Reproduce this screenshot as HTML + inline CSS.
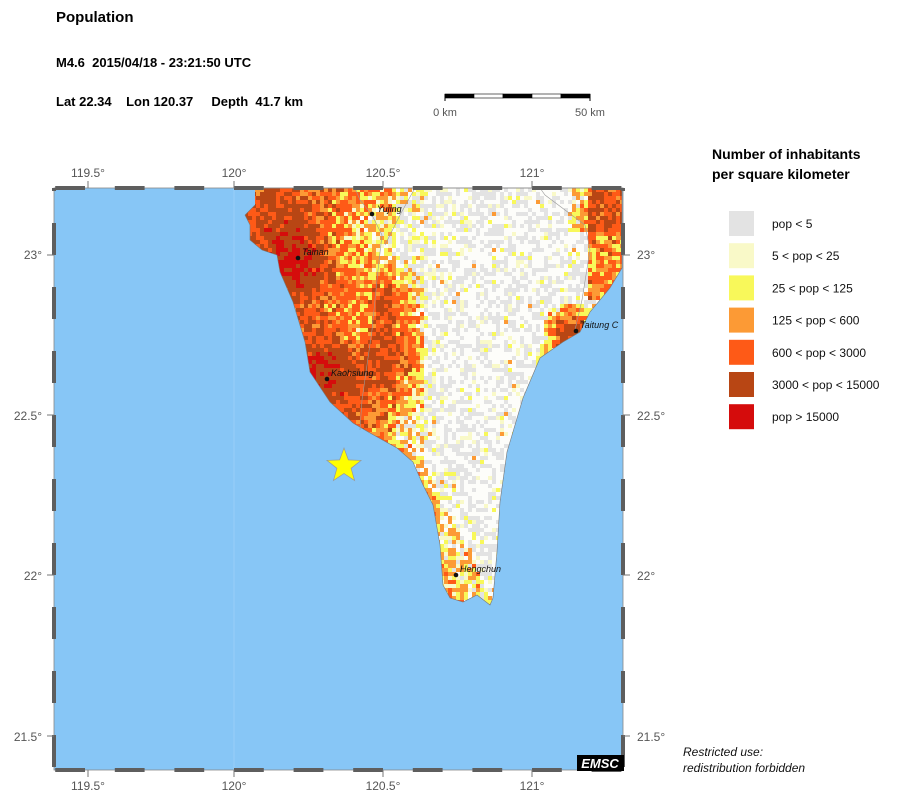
<!DOCTYPE html>
<html><head><meta charset="utf-8"><style>
html,body{margin:0;padding:0;background:#fff;}
svg{display:block;font-family:"Liberation Sans",sans-serif;}
</style></head><body>
<svg id="s" width="904" height="801" viewBox="0 0 904 801" xmlns="http://www.w3.org/2000/svg">
<defs>
<clipPath id="land"><path d="M255,188 L622,188 L622,268 L610,288 L590,312 L580,332 L563,342 L540,358 L523,398 L507,452 L500,502 L497,552 L493,598 L490,605 L477,595 L463,602 L450,598 L443,585 L440,545 L433,505 L423,485 L413,462 L397,448 L370,433 L353,423 L330,402 L310,372 L305,342 L293,302 L280,272 L277,255 L262,250 L250,240 L250,225 L245,215 L255,205 Z"/></clipPath>
</defs>
<rect x="54" y="188" width="569" height="582" fill="#87c6f6"/>
<g clip-path="url(#land)"><rect x="240" y="188" width="390" height="420" fill="#fdfdfa"/><g id="pix"></g></g>
<path d="M255,188 L622,188 L622,268 L610,288 L590,312 L580,332 L563,342 L540,358 L523,398 L507,452 L500,502 L497,552 L493,598 L490,605 L477,595 L463,602 L450,598 L443,585 L440,545 L433,505 L423,485 L413,462 L397,448 L370,433 L353,423 L330,402 L310,372 L305,342 L293,302 L280,272 L277,255 L262,250 L250,240 L250,225 L245,215 L255,205" fill="none" stroke="#777" stroke-width="0.6"/>
<path d="M355,188 L360,200 L372,215 L382,235 L378,270 L372,330 L362,400 L360,430 M540,188 L545,195 L565,210 L585,225 L590,250 L582,300 L575,330 M415,188 L400,215 L385,245" fill="none" stroke="#999" stroke-width="0.6"/>
<line x1="234" y1="188" x2="234" y2="770" stroke="#9acff8" stroke-width="1"/>
<g id="frame"></g>
<g fill="#555" font-size="12" text-anchor="middle">
<text x="88" y="177">119.5°</text><text x="234" y="177">120°</text><text x="383" y="177">120.5°</text><text x="532" y="177">121°</text>
<text x="88" y="790">119.5°</text><text x="234" y="790">120°</text><text x="383" y="790">120.5°</text><text x="532" y="790">121°</text>
</g>
<g fill="#555" font-size="12" text-anchor="end">
<text x="42" y="259">23°</text><text x="42" y="420">22.5°</text><text x="42" y="580">22°</text><text x="42" y="741">21.5°</text>
</g>
<g fill="#555" font-size="12">
<text x="637" y="259">23°</text><text x="637" y="420">22.5°</text><text x="637" y="580">22°</text><text x="637" y="741">21.5°</text>
</g>
<g id="fg"></g>
<g font-size="9" font-style="italic" fill="#111">
<circle cx="372" cy="214" r="2.3"/><text x="377" y="212">Yujing</text>
<circle cx="298" cy="258" r="2.3"/><text x="302" y="255">Tainan</text>
<circle cx="327" cy="379" r="2.3"/><text x="331" y="376">Kaohsiung</text>
<circle cx="576" cy="331" r="2.3"/><text x="580" y="328">Taitung C</text>
<circle cx="456" cy="575" r="2.3"/><text x="460" y="572">Hengchun</text>
</g>
<polygon id="star" fill="#ffff00" stroke="#999" stroke-width="0.7"/>
<rect x="577" y="755" width="47" height="16" fill="#000"/>
<text x="600" y="768" fill="#fff" font-size="13" font-weight="bold" font-style="italic" text-anchor="middle">EMSC</text>
<text x="683" y="756" font-size="12" font-style="italic" fill="#111">Restricted use:</text>
<text x="683" y="772" font-size="12" font-style="italic" fill="#111">redistribution forbidden</text>
<text x="56" y="22" font-size="15" font-weight="bold" fill="#000">Population</text>
<text x="56" y="67" font-size="13" font-weight="bold" fill="#000" xml:space="preserve">M4.6  2015/04/18 - 23:21:50 UTC</text>
<text x="56" y="106" font-size="13" font-weight="bold" fill="#000" xml:space="preserve">Lat 22.34    Lon 120.37     Depth  41.7 km</text>
<g id="scale"></g>
<text x="445" y="116" font-size="11" fill="#555" text-anchor="middle">0 km</text>
<text x="590" y="116" font-size="11" fill="#555" text-anchor="middle">50 km</text>
<text x="712" y="159" font-size="14" font-weight="bold" fill="#000">Number of inhabitants</text>
<text x="712" y="179" font-size="14" font-weight="bold" fill="#000">per square kilometer</text>
<g id="leg" font-size="12" fill="#111"></g>
</svg>
<script>
var NS="http://www.w3.org/2000/svg";
function el(p,t,a){var e=document.createElementNS(NS,t);for(var k in a)e.setAttribute(k,a[k]);p.appendChild(e);return e;}
var cols=["#e3e3e3","#f9f9c8","#f8f85a","#fc9a35","#fe5a17","#b84614","#d50c0c"];
var labs=["pop < 5","5 < pop < 25","25 < pop < 125","125 < pop < 600","600 < pop < 3000","3000 < pop < 15000","pop > 15000"];
var leg=document.getElementById("leg");
for(var i=0;i<7;i++){el(leg,"rect",{x:729,y:211+i*32.2,width:25,height:25,fill:cols[i]});var t=el(leg,"text",{x:772,y:228+i*32.2});t.textContent=labs[i];}
var pts=[];for(var i=0;i<10;i++){var r=i%2?7.5:18,a=-Math.PI/2+i*Math.PI/5;pts.push((344+r*Math.cos(a)).toFixed(1)+","+(466+r*Math.sin(a)).toFixed(1));}
document.getElementById("star").setAttribute("points",pts.join(" "));
var sc=document.getElementById("scale");
for(var i=0;i<5;i++){el(sc,"rect",{x:445+i*29,y:94,width:29,height:4,fill:i%2?"#fff":"#000",stroke:"#000","stroke-width":0.6});}
el(sc,"line",{x1:445,y1:94,x2:445,y2:101,stroke:"#000"});el(sc,"line",{x1:590,y1:94,x2:590,y2:101,stroke:"#000"});
var fr=document.getElementById("frame");
el(fr,"rect",{x:54,y:188,width:569,height:582,fill:"none",stroke:"#888","stroke-width":0.8});
function lonx(l){return 234+(l-120)*298;}
function laty(l){return 255-(l-23)*320;}
for(var k=-6;k<13;k++){var l0=120+k*0.1,x0=Math.max(54,lonx(l0)),x1=Math.min(623,lonx(l0+0.1));if(x1<=x0)continue;
 if(k%2==0){el(fr,"rect",{x:x0,y:186,width:x1-x0,height:4,fill:"#5e5e5e"});el(fr,"rect",{x:x0,y:768,width:x1-x0,height:4,fill:"#5e5e5e"});}}
for(var k=-17;k<3;k++){var a0=23+k*0.1,y0=Math.max(188,laty(a0+0.1)),y1=Math.min(770,laty(a0));if(y1<=y0)continue;
 if(((k%2)+2)%2==0){el(fr,"rect",{x:52,y:y0,width:4,height:y1-y0,fill:"#5e5e5e"});el(fr,"rect",{x:621,y:y0,width:4,height:y1-y0,fill:"#5e5e5e"});}}
[88,234,383,532].forEach(function(x){el(fr,"line",{x1:x,y1:181,x2:x,y2:188,stroke:"#777"});el(fr,"line",{x1:x,y1:770,x2:x,y2:777,stroke:"#777"});});
[255,415,575,736].forEach(function(y){el(fr,"line",{x1:47,y1:y,x2:54,y2:y,stroke:"#777"});el(fr,"line",{x1:623,y1:y,x2:630,y2:y,stroke:"#777"});});
var seed=12345;function rnd(){seed=(seed*16807)%2147483647;return seed/2147483647;}
function g(x,y,cx,cy,r){var d=((x-cx)*(x-cx)+(y-cy)*(y-cy))/(r*r);return Math.exp(-d);}
function lvl(v){if(v<0.12)return 1;if(v<0.28)return 2;if(v<0.45)return 3;if(v<0.72)return 4;if(v<1.15)return 5;return 6;}
var pix=document.getElementById("pix");var frag=document.createDocumentFragment();
for(var y=188;y<610;y+=4){for(var x=240;x<624;x+=4){
 var c=-1;var wb=(y<460)?422:422+(y-460)*0.5;
 if(x<wb){
  var v=0.38+0.2*Math.max(0,1-(x-280)/140);
  v+=0.75*g(x,y,292,262,30)+0.65*g(x,y,322,372,35)+0.45*g(x,y,395,355,30)+0.3*g(x,y,392,300,22)+0.25*g(x,y,280,215,35)+0.2*g(x,y,360,410,25);
  v-=0.3*g(x,y,385,235,45)+0.2*g(x,y,350,330,20);
  if(x>wb-30)v-=0.2;
  v+=(rnd()-0.5)*0.6;
  if(v<0.05)c=(rnd()<0.5?0:-1);else c=lvl(v);
 } else {
  var b=0.9*g(x,y,570,330,22)+0.7*g(x,y,452,578,15)+0.25*g(x,y,545,360,15);
  if(x>585&&y<300)b+=0.45;if(x>570&&y<230)b+=0.25;
  if(b>0.15){var v=b+(rnd()-0.5)*0.6;c=v<0.08?(rnd()<0.5?0:-1):lvl(v);}
  else{var p=rnd();
   if(p<0.38)c=0;else if(p<0.44)c=1;else if(p<0.47)c=2;else if(p<0.485)c=3;else c=-1;
   if(x<wb+25&&p>0.485&&p<0.6)c=(rnd()<0.5?1:2);}
 }
 if(c<0)continue;
 var r=document.createElementNS(NS,"rect");r.setAttribute("x",x);r.setAttribute("y",y);r.setAttribute("width",4);r.setAttribute("height",4);r.setAttribute("fill",cols[c]);frag.appendChild(r);
}}
pix.appendChild(frag);
</script>
</body></html>
